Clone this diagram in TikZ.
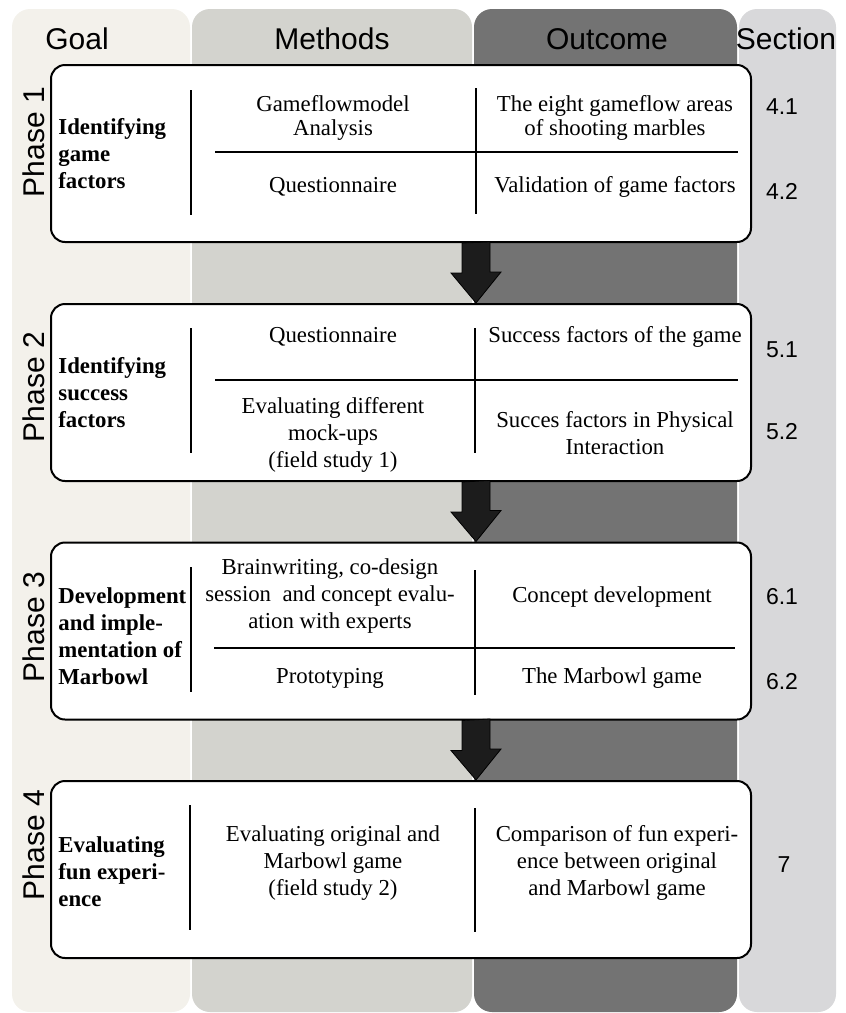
\documentclass[tikz,border=0pt]{standalone}
\usepackage{fontspec}
\setmainfont{Liberation Serif}
\newfontfamily\headfont{Liberation Sans}

\definecolor{goalbg}{HTML}{F3F1EB}
\definecolor{methbg}{HTML}{D3D3CE}
\definecolor{outbg}{HTML}{737373}
\definecolor{secbg}{HTML}{D8D8DA}
\definecolor{arrowfill}{HTML}{1C1C1C}

\tikzset{
  phasebox/.style={draw=black, line width=1pt, fill=white, rounded corners=7pt,
    minimum width=350pt, minimum height=88.5pt, inner sep=0pt},
  colhead/.style={font=\headfont\fontsize{15}{18}\selectfont, inner sep=0pt},
  phaselbl/.style={font=\headfont\fontsize{15}{18}\selectfont, rotate=90, inner sep=0pt},
  goaltxt/.style={font=\bfseries\fontsize{11.4}{13.5}\selectfont, align=left, anchor=west, inner sep=0pt},
  cell/.style={font=\fontsize{11.4}{13.5}\selectfont, align=center, inner sep=0pt},
  tightcell/.style={font=\fontsize{11.4}{12}\selectfont, align=center, inner sep=0pt},
  secnum/.style={font=\headfont\fontsize{11.5}{14}\selectfont, inner sep=0pt},
  divider/.style={line width=1pt},
  flowarrow/.style={fill=arrowfill, draw=black, line width=0.4pt}
}

\begin{document}
\begin{tikzpicture}[x=0.5pt, y=-0.5pt]
  \useasboundingbox (0,0) rectangle (846,1013);

  % column backgrounds
  \fill[goalbg, rounded corners=9pt] (12,9) rectangle (190,1012);
  \fill[methbg, rounded corners=9pt] (192,9) rectangle (472,1012);
  \fill[outbg, rounded corners=9pt] (474,9) rectangle (737,1012);
  \fill[secbg, rounded corners=9pt] (739,9) rectangle (836,1012);

  \node[colhead] (hgoal) at (77,39) {Goal};
  \node[colhead] (hmeth) at (332,39) {Methods};
  \node[colhead] (hout) at (607,39) {Outcome};
  \node[colhead] (hsec) at (786,39) {Section};

  % phase boxes
  \node[phasebox] (ph1) at (401,153.5) {};
  \node[phasebox] (ph2) at (401,392.5) {};
  \node[phasebox] (ph3) at (401,631) {};
  \node[phasebox] (ph4) at (401,869.5) {};

  % arrows between phases
  \foreach \a/\b in {ph1/ph2, ph2/ph3, ph3/ph4} {
    \path (\a.south) ++(75,0) coordinate (\a-out);
    \path (\b.north) ++(75,0) coordinate (\b-in);
    \filldraw[flowarrow] (\a-out) ++(-14,0) -- ++(0,30) -- ++(-11,0) -- (\b-in)
      -- ++(25,-31) -- ++(-11,0) -- ++(0,-30) -- cycle;
  }

  % dividers
  \draw[divider] (191,90) -- (191,215);
  \draw[divider] (476,88) -- (476,214);
  \draw[divider] (215,152) -- (738,152);
  \draw[divider] (191,328) -- (191,453);
  \draw[divider] (475,328) -- (475,453);
  \draw[divider] (215,380) -- (738,380);
  \draw[divider] (191,567) -- (191,692);
  \draw[divider] (475,570) -- (475,695);
  \draw[divider] (214,648) -- (735,648);
  \draw[divider] (190,805) -- (190,930);
  \draw[divider] (475,808) -- (475,932);

  % phase 1
  \node[phaselbl] (lbl1) at (34,142) {Phase 1};
  \node[goaltxt] (goal1) at (58,154) {Identifying\\game\\factors};
  \node[tightcell] (m11) at (333,118) {Gameflowmodel\\Analysis};
  \node[cell] (m12) at (333,187) {Questionnaire};
  \node[tightcell] (o11) at (615,118) {The eight gameflow areas\\of shooting marbles};
  \node[cell] (o12) at (615,187) {Validation of game factors};
  \node[secnum] (s11) at (782,107) {4.1};
  \node[secnum] (s12) at (782,191) {4.2};

  % phase 2
  \node[phaselbl] (lbl2) at (34,387) {Phase 2};
  \node[goaltxt] (goal2) at (58,393) {Identifying\\success\\factors};
  \node[cell] (m21) at (333,337) {Questionnaire};
  \node[cell] (m22) at (333,435) {Evaluating different\\mock-ups\\(field study 1)};
  \node[cell] (o21) at (615,337) {Success factors of the game};
  \node[cell] (o22) at (615,433) {Succes factors in Physical\\Interaction};
  \node[secnum] (s21) at (782,350) {5.1};
  \node[secnum] (s22) at (782,432) {5.2};

  % phase 3
  \node[phaselbl] (lbl3) at (34,627) {Phase 3};
  \node[goaltxt] (goal3) at (58,636) {Development\\and imple-\\mentation of\\Marbowl};
  \node[cell] (m31) at (330,596) {Brainwriting, co-design\\session\ \ and concept evalu-\\ation with experts};
  \node[cell] (m32) at (330,678) {Prototyping};
  \node[cell] (o31) at (612,597) {Concept development};
  \node[cell] (o32) at (612,678) {The Marbowl game};
  \node[secnum] (s31) at (782,597) {6.1};
  \node[secnum] (s32) at (782,682) {6.2};

  % phase 4
  \node[phaselbl] (lbl4) at (34,845) {Phase 4};
  \node[goaltxt] (goal4) at (58,872) {Evaluating\\fun experi-\\ence};
  \node[cell] (m41) at (333,863) {Evaluating original and\\Marbowl game\\(field study 2)};
  \node[cell] (o41) at (617,863) {Comparison of fun experi-\\ence between original\\and Marbowl game};
  \node[secnum] (s41) at (784,865) {7};
\end{tikzpicture}
\end{document}
